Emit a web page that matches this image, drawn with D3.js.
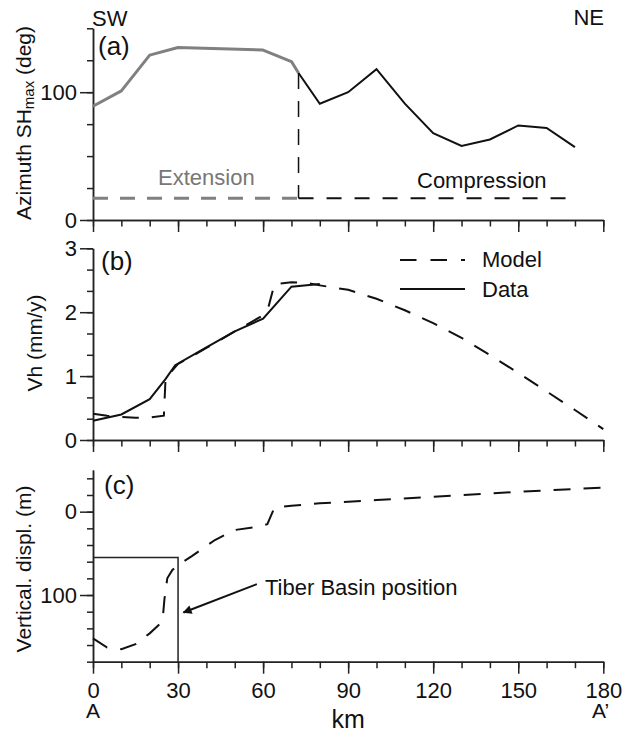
<!DOCTYPE html>
<html>
<head>
<meta charset="utf-8">
<script src="https://cdn.jsdelivr.net/npm/d3@7"></script>
<style>
  body { margin: 0; background: #fff; }
  text { font-family: "Liberation Sans", Arial, sans-serif; fill: #111; }
  .axis path, .axis line { stroke: #222; stroke-width: 1.5px; }
  .axis text { font-size: 22px; fill: #111; }
</style>
</head>
<body>
<script>
// panel (a): azimuth of SHmax along the profile
var azExtKm = [0, 10, 20, 30, 60, 70, 72.5];
var azExtDeg = [89, 101, 129, 135, 133, 124, 115];
var azCompKm = [72.5, 80, 90, 100, 110, 120, 130, 140, 150, 160, 170];
var azCompDeg = [115, 91, 100, 118, 91, 68, 58, 63, 74, 72, 57];
var regimeKm = [0, 72.5, 167];
var regimeDeg = 17;

// panel (b): horizontal velocity
var vhDataKm = [0, 10, 20, 25.5, 29, 40, 50, 60, 70, 80];
var vhData = [0.30, 0.40, 0.64, 0.95, 1.17, 1.45, 1.70, 1.90, 2.40, 2.44];
var vhModelKm = [0, 5, 10, 15, 20, 25, 25.6, 30, 40, 50, 60, 62, 64, 70, 75, 80, 90, 100, 110, 120, 130, 140, 150, 160, 170, 180];
var vhModel = [0.41, 0.38, 0.36, 0.35, 0.35, 0.38, 0.97, 1.19, 1.44, 1.70, 1.95, 2.10, 2.44, 2.47, 2.46, 2.42, 2.35, 2.21, 2.03, 1.83, 1.60, 1.33, 1.05, 0.76, 0.47, 0.17];

// panel (c): vertical displacement (positive down)
var vdKm = [0, 5, 10, 15, 20, 24.5, 25.2, 26.2, 28, 30, 35, 43, 50, 58, 61.5, 64, 70, 80, 90, 100, 120, 140, 160, 180];
var vd = [152, 163, 165, 159, 146, 132, 105, 80, 70, 64, 53, 34, 22, 18, 15, -5, -7, -10, -12, -14, -18, -22, -25.5, -29];
var basinKm = [0, 30];
var basinTop = 55;

var xTicksMajor = [0, 30, 60, 90, 120, 150, 180];
var xTicksMinor = d3.range(0, 181, 10);

var width = 636, height = 733;

var svg = d3.select("body").append("svg")
    .attr("width", width)
    .attr("height", height);

var x = d3.scaleLinear().domain([0, 180]).range([93, 603.3]);
var yA = d3.scaleLinear().domain([0, 150]).range([220, 28.3]);
var yB = d3.scaleLinear().domain([0, 3]).range([440, 248.3]);
var yC = d3.scaleLinear().domain([-50, 180]).range([470, 661.7]);

function xAxis(y0, labels) {
  svg.append("g").attr("class", "axis")
      .attr("transform", "translate(0," + y0 + ")")
      .call(d3.axisBottom(x).tickValues(xTicksMinor).tickSize(6.5).tickSizeOuter(0).tickFormat(""));
  var g = svg.append("g").attr("class", "axis")
      .attr("transform", "translate(0," + y0 + ")")
      .call(d3.axisBottom(x).tickValues(xTicksMajor).tickSize(12).tickSizeOuter(0)
        .tickFormat(labels ? d3.format("d") : ""));
  g.selectAll("text").attr("y", 36).attr("dy", null);
}

function yAxis(scale, minor, major) {
  svg.append("g").attr("class", "axis")
      .attr("transform", "translate(93,0)")
      .call(d3.axisLeft(scale).tickValues(minor).tickSize(6).tickSizeOuter(0).tickFormat(""));
  svg.append("g").attr("class", "axis")
      .attr("transform", "translate(93,0)")
      .call(d3.axisLeft(scale).tickValues(major).tickSize(13).tickPadding(3).tickSizeOuter(0)
        .tickFormat(d3.format("d")));
}

xAxis(220, false);
xAxis(440, false);
xAxis(661.7, true);

yAxis(yA, d3.range(0, 151, 25), [0, 100]);
yAxis(yB, d3.range(0, 10).map(function(i) { return i / 3; }), [0, 1, 2, 3]);
yAxis(yC, d3.range(-40, 181, 20), [0, 100]);

function lineOf(ys) {
  return d3.line().x(function(d) { return x(d[0]); }).y(function(d) { return ys(d[1]); });
}

// ---- panel (a)
svg.append("path")
    .datum(d3.zip(azExtKm, azExtDeg))
    .attr("d", lineOf(yA))
    .attr("fill", "none").attr("stroke", "#808080").attr("stroke-width", 3)
    .attr("stroke-linejoin", "round");
svg.append("path")
    .datum(d3.zip(azCompKm, azCompDeg))
    .attr("d", lineOf(yA))
    .attr("fill", "none").attr("stroke", "#111").attr("stroke-width", 2);

svg.append("line")
    .attr("x1", x(regimeKm[0])).attr("x2", x(regimeKm[1]))
    .attr("y1", yA(regimeDeg)).attr("y2", yA(regimeDeg))
    .attr("stroke", "#808080").attr("stroke-width", 3).attr("stroke-dasharray", "15,12");
svg.append("line")
    .attr("x1", x(regimeKm[1])).attr("x2", x(regimeKm[2]))
    .attr("y1", yA(regimeDeg)).attr("y2", yA(regimeDeg))
    .attr("stroke", "#111").attr("stroke-width", 2).attr("stroke-dasharray", "15,13");
svg.append("line")
    .attr("x1", x(regimeKm[1])).attr("x2", x(regimeKm[1]))
    .attr("y1", yA(azExtDeg[azExtDeg.length - 1])).attr("y2", yA(regimeDeg))
    .attr("stroke", "#111").attr("stroke-width", 1.5).attr("stroke-dasharray", "16,12");

svg.append("text").attr("x", 158).attr("y", 185).style("font-size", "22px")
    .style("fill", "#777").text("Extension");
svg.append("text").attr("x", 417).attr("y", 188).style("font-size", "22px")
    .text("Compression");

svg.append("text").attr("x", 92).attr("y", 26).style("font-size", "22px").text("SW");
svg.append("text").attr("x", 604).attr("y", 25).attr("text-anchor", "end")
    .style("font-size", "22px").text("NE");

var labA = svg.append("text")
    .attr("transform", "translate(31,123) rotate(-90)")
    .attr("text-anchor", "middle").style("font-size", "21px");
labA.append("tspan").text("Azimuth SH");
labA.append("tspan").attr("dy", 3).style("font-size", "15px").text("max");
labA.append("tspan").attr("dy", -3).text(" (deg)");

// ---- panel (b)
svg.append("path")
    .datum(d3.zip(vhModelKm, vhModel))
    .attr("d", lineOf(yB))
    .attr("fill", "none").attr("stroke", "#111").attr("stroke-width", 2)
    .attr("stroke-dasharray", "16.5,13");
svg.append("path")
    .datum(d3.zip(vhDataKm, vhData))
    .attr("d", lineOf(yB))
    .attr("fill", "none").attr("stroke", "#111").attr("stroke-width", 2);

svg.append("line").attr("x1", 400).attr("x2", 465).attr("y1", 260).attr("y2", 260)
    .attr("stroke", "#111").attr("stroke-width", 2).attr("stroke-dasharray", "16.5,14");
svg.append("text").attr("x", 482).attr("y", 267).style("font-size", "22px").text("Model");
svg.append("line").attr("x1", 400).attr("x2", 465).attr("y1", 289).attr("y2", 289)
    .attr("stroke", "#111").attr("stroke-width", 2);
svg.append("text").attr("x", 482).attr("y", 297).style("font-size", "22px").text("Data");

svg.append("text")
    .attr("transform", "translate(42,343) rotate(-90)")
    .attr("text-anchor", "middle").style("font-size", "21px")
    .text("Vh (mm/y)");

// ---- panel (c)
svg.append("path")
    .datum(d3.zip(vdKm, vd))
    .attr("d", lineOf(yC))
    .attr("fill", "none").attr("stroke", "#111").attr("stroke-width", 2)
    .attr("stroke-dasharray", "17,13");

svg.append("path")
    .attr("d", d3.line()([[x(basinKm[0]), yC(basinTop)], [x(basinKm[1]), yC(basinTop)], [x(basinKm[1]), yC(180)]]))
    .attr("fill", "none").attr("stroke", "#222").attr("stroke-width", 1.5);

svg.append("defs").append("marker")
    .attr("id", "head")
    .attr("viewBox", "0 0 10 10")
    .attr("refX", 9).attr("refY", 5)
    .attr("markerWidth", 11).attr("markerHeight", 9)
    .attr("markerUnits", "userSpaceOnUse")
    .attr("orient", "auto")
  .append("path").attr("d", "M0,0 L10,5 L0,10 Z").attr("fill", "#111");

svg.append("line")
    .attr("x1", x(57.8)).attr("y1", yC(87))
    .attr("x2", x(31.9)).attr("y2", yC(121))
    .attr("stroke", "#111").attr("stroke-width", 2)
    .attr("marker-end", "url(#head)");

svg.append("text").attr("x", 265).attr("y", 595).style("font-size", "22px")
    .text("Tiber Basin position");

svg.append("text")
    .attr("transform", "translate(31,569) rotate(-90)")
    .attr("text-anchor", "middle").style("font-size", "21px")
    .text("Vertical. displ. (m)");

// panel letters
svg.append("text").attr("x", 98).attr("y", 55).style("font-size", "26px").text("(a)");
svg.append("text").attr("x", 101).attr("y", 270).style("font-size", "26px").text("(b)");
svg.append("text").attr("x", 104).attr("y", 494).style("font-size", "26px").text("(c)");

// profile ends and x label
svg.append("text").attr("x", x(0)).attr("y", 718).attr("text-anchor", "middle")
    .style("font-size", "21px").text("A");
svg.append("text").attr("x", 592).attr("y", 718)
    .style("font-size", "21px").text("A’");
svg.append("text").attr("x", x(90)).attr("y", 728).attr("text-anchor", "middle")
    .style("font-size", "25px").text("km");
</script>
</body>
</html>
